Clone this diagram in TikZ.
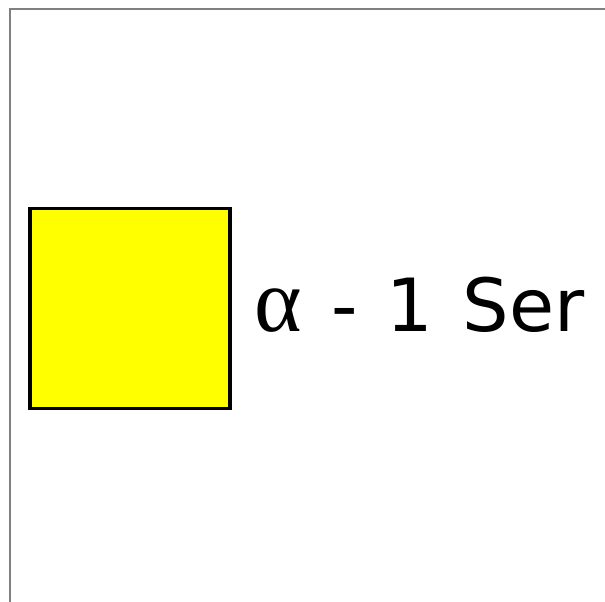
\documentclass[tikz,border=0pt]{standalone}
\usepackage{fontspec}
\setmainfont{DejaVu Sans}
\newfontfamily\greekfont{Liberation Serif}
\definecolor{Sfill}{RGB}{255,255,0}
\definecolor{Frame}{RGB}{128,128,128}

\begin{document}
\begin{tikzpicture}[x=0.75pt,y=-0.75pt,line cap=rect,line join=miter]
\path[use as bounding box] (0,0) rectangle (605,601);
\draw[Frame,line width=1.5pt] (9.5,601) -- (9.5,9) -- (605,9);
\node[draw,line width=2.8pt,fill=Sfill,minimum size=150pt,inner sep=0pt] (box) at (130,308.5) {};
\node[anchor=base west,inner sep=0pt,font=\fontsize{55}{60}\selectfont] (lbl) at (254,331)
  {\spaceskip=22pt{\greekfont\fontsize{68}{70}\selectfont α} - 1 Ser};
\end{tikzpicture}
\end{document}
